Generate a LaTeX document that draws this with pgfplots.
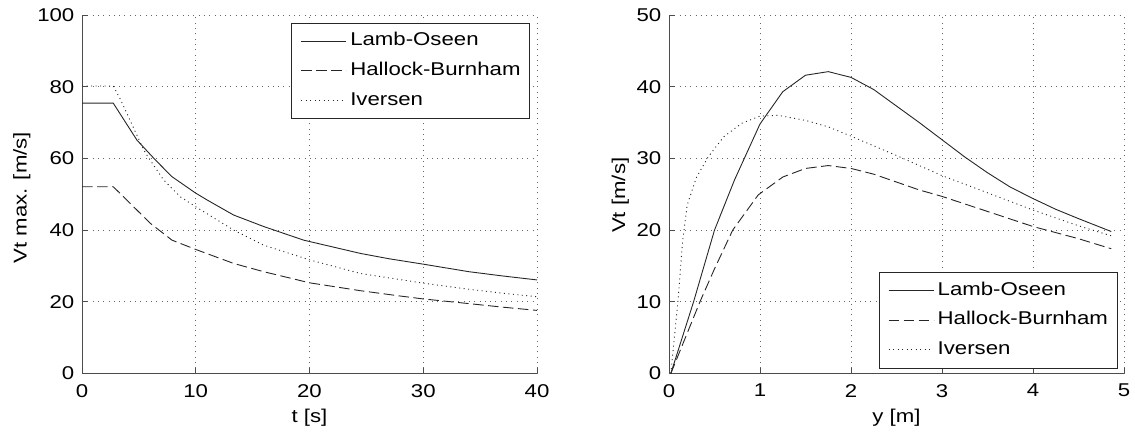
\documentclass[border=0pt]{standalone}
\usepackage{fontspec}
\setmainfont[FakeStretch=1.2]{Liberation Sans}
\usepackage{pgfplots}
\pgfplotsset{compat=1.18}

\pgfplotstableread{
t v
0 75.4
2.75 75.4
4.83 65.1
6.44 59.6
7.91 54.9
10 50.3
11 48.4
13.33 44.2
15.97 41.0
19.48 37.2
24.47 33.5
27 32.0
30 30.5
34 28.4
37 27.2
40 26.1
}\lambt
\pgfplotstableread{
t v
0 52.1
2.75 52.1
4.54 46.5
6.0 41.9
7.91 37.2
10 34.6
13.33 30.7
15.97 28.4
20 25.3
24.47 23.1
28 21.6
30 20.8
34 19.5
37 18.5
40 17.6
}\hallt
\pgfplotstableread{
t v
0 80.2
2.75 80.2
3.4 76.3
4.2 70.8
5.2 63.9
5.6 61.4
7.17 54.0
8.64 49.3
10 46.5
13.33 40.0
15.97 35.8
20 31.7
24.47 27.9
30 25.2
34 23.5
37 22.4
40 21.4
}\ivert
\pgfplotstableread{
y v
0.02 0
0.27 10.0
0.5 20.0
0.72 27.0
1.0 34.8
1.25 39.3
1.5 41.6
1.75 42.1
2.0 41.3
2.25 39.6
2.5 37.3
2.75 35.0
3.0 32.6
3.25 30.2
3.5 28.0
3.75 26.0
4.0 24.4
4.25 22.9
4.5 21.6
4.86 19.8
}\lamby
\pgfplotstableread{
y v
0.02 0
0.34 10.0
0.5 14.6
0.7 20.0
0.98 24.9
1.25 27.4
1.5 28.6
1.75 29.0
2.0 28.6
2.25 27.8
2.5 26.7
2.75 25.6
3.0 24.7
3.5 22.6
4.0 20.5
4.5 18.8
4.86 17.4
}\hally
\pgfplotstableread{
y v
0.02 0
0.1 10.3
0.15 18.5
0.2 23.5
0.3 27.3
0.43 30.2
0.6 33.0
0.8 34.9
1.0 35.9
1.2 36.0
1.5 35.3
1.75 34.4
2.0 33.1
2.5 30.4
3.0 27.6
3.5 25.2
4.0 22.8
4.5 20.6
4.86 19.2
}\ivery

\pgfplotsset{
  mystyle/.style={
    scale only axis, width=455pt, height=358.5pt,
    axis x line=bottom, axis y line=left,
    axis line style={-, black!70, line width=0.9pt},
    tick align=inside, major tick length=5.5pt,
    tick style={black!70, line width=0.9pt},
    grid=major,
    major grid style={black!60, line width=0.9pt, dash pattern=on 0.9pt off 4.4pt},
    /pgf/number format/assume math mode=true,
    xticklabel style={inner sep=0pt, anchor=north, yshift=-10.5pt},
    yticklabel style={inner sep=0pt, anchor=east, xshift=-7.5pt},
    every axis x label/.style={at={(axis description cs:0.5,-0.099)}, anchor=north, inner sep=0pt},
    legend cell align=left,
    legend style={draw=black!85, line width=0.9pt, inner xsep=9pt, inner ysep=9.5pt,
      /tikz/row sep=12.3pt, /tikz/column sep=3.6pt,
      nodes={inner sep=0pt, text height=13.3pt, text depth=4pt}},
    legend image code/.code={\draw[##1] (0pt,0pt) -- (45pt,0pt);},
  },
  lamb/.style={black!85, line width=0.9pt},
  hall/.style={black!85, line width=0.9pt, dash pattern=on 10.5pt off 4.5pt},
  iver/.style={black!85, line width=0.9pt, dash pattern=on 1pt off 3.5pt},
}

\begin{document}
\begin{tikzpicture}[font=\fontsize{18.5pt}{21pt}\selectfont]
\useasboundingbox (0,0) rectangle (1135pt,431pt);
\begin{axis}[mystyle, at={(82pt,57.5pt)}, anchor=south west,
  xmin=0, xmax=40, ymin=0, ymax=100,
  xtick={0,10,20,30,40}, ytick={0,20,40,60,80,100},
  xlabel={t [s]}, ylabel={Vt max. [m/s]},
  every axis y label/.style={at={(axis description cs:-0.132,0.49)}, anchor=center, rotate=90},
  legend style={at={(1,1)}, anchor=north east, xshift=-7pt, yshift=-7.7pt},
]
\addplot[lamb] table[x=t, y=v] {\lambt};
\addplot[hall] table[x=t, y=v] {\hallt};
\addplot[iver] table[x=t, y=v] {\ivert};
\legend{Lamb-Oseen, Hallock-Burnham, Iversen}
\end{axis}
\begin{axis}[mystyle, at={(669pt,57.5pt)}, anchor=south west,
  xmin=0, xmax=5, ymin=0, ymax=50,
  xtick={0,1,2,3,4,5}, ytick={0,10,20,30,40,50},
  xlabel={y [m]}, ylabel={Vt [m/s]},
  every axis y label/.style={at={(axis description cs:-0.107,0.497)}, anchor=center, rotate=90},
  legend style={at={(1,0)}, anchor=south east, xshift=-6.6pt, yshift=5pt},
]
\addplot[lamb] table[x=y, y=v] {\lamby};
\addplot[hall] table[x=y, y=v] {\hally};
\addplot[iver] table[x=y, y=v] {\ivery};
\legend{Lamb-Oseen, Hallock-Burnham, Iversen}
\end{axis}
\end{tikzpicture}
\end{document}
